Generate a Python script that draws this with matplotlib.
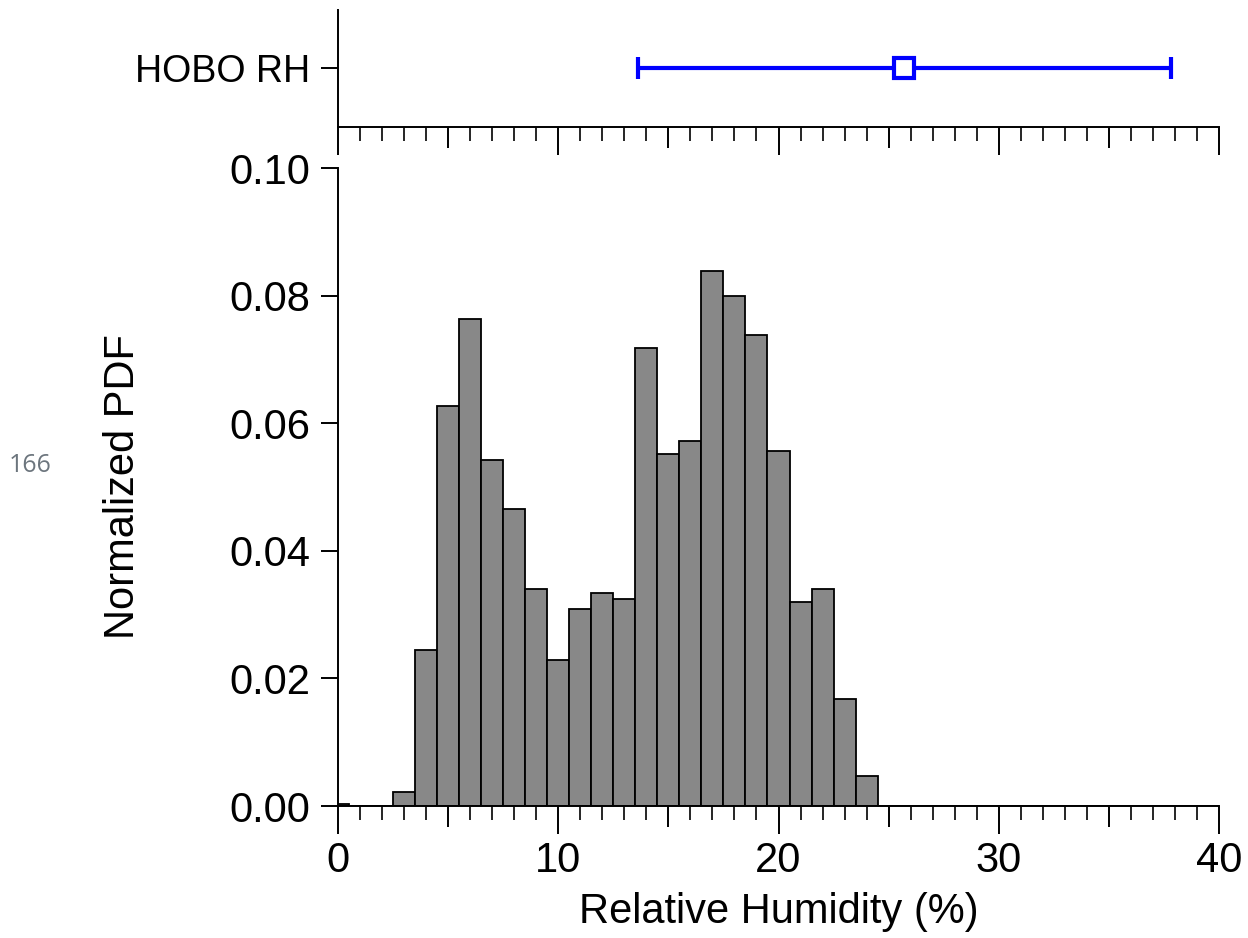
import numpy as np
import matplotlib
matplotlib.use('Agg')
import matplotlib.pyplot as plt
from matplotlib.ticker import MultipleLocator, FuncFormatter

plt.rcParams['font.family'] = ['Liberation Sans', 'DejaVu Sans']

# histogram of relative humidity, bins centred on whole percent
rh_centers = list(range(0, 41))
pdf = [0.0003, 0.0, 0.0, 0.0022, 0.0244, 0.0627, 0.0764, 0.0542, 0.0466, 0.0340,
       0.0229, 0.0309, 0.0334, 0.0324, 0.0718, 0.0552, 0.0572, 0.0839, 0.0799, 0.0739,
       0.0556, 0.0320, 0.0340, 0.0168, 0.0047, 0.0, 0.0, 0.0, 0.0, 0.0,
       0.0, 0.0, 0.0, 0.0, 0.0, 0.0, 0.0, 0.0, 0.0, 0.0, 0.0]

# HOBO sensor mean and spread
hobo_label = 'HOBO RH'
hobo_mean = 25.7
hobo_err = 12.1

W, H = 1248, 938
fig = plt.figure(figsize=(W / 100, H / 100), dpi=100)
ax = fig.add_axes([338 / W, (H - 806) / H, 881 / W, 638 / H])
axt = fig.add_axes([338 / W, (H - 127) / H, 881 / W, 117 / H])

ax.bar(rh_centers, pdf, width=1.0, color='#888888', edgecolor='black', linewidth=1.3)
ax.set_xlim(0, 40)
ax.set_ylim(0, 0.10)
ax.set_yticks([0, 0.02, 0.04, 0.06, 0.08, 0.10])
ax.yaxis.set_major_formatter(FuncFormatter(lambda v, p: f'{v:.2f}'))
ax.set_xlabel('Relative Humidity (%)', fontsize=30, labelpad=8)
ax.set_ylabel('Normalized PDF', fontsize=30, labelpad=62)

for a in (ax, axt):
    for s in ('top', 'right'):
        a.spines[s].set_visible(False)
    for s in ('left', 'bottom'):
        a.spines[s].set_linewidth(1.4)
    a.set_xlim(0, 40)
    a.xaxis.set_major_locator(MultipleLocator(5))
    a.xaxis.set_minor_locator(MultipleLocator(1))
    a.tick_params(axis='x', which='major', length=15, width=1.4, direction='out')
    a.tick_params(axis='x', which='minor', length=10, width=1.2, direction='out')
    a.tick_params(axis='y', which='major', length=12, width=1.4, direction='out')

ax.xaxis.set_major_formatter(FuncFormatter(lambda v, p: f'{v:.0f}' if v % 10 == 0 else ''))
ax.tick_params(axis='x', labelsize=30, pad=10)
ax.tick_params(axis='y', labelsize=30, pad=8)
axt.set_xticklabels([])

# long ticks at the tens
fig.canvas.draw()
for a in (ax, axt):
    for t in a.xaxis.get_major_ticks():
        if abs(t.get_loc() % 10) < 1e-6:
            t.tick1line.set_markersize(20)

axt.errorbar([hobo_mean], [0], xerr=[hobo_err], fmt='s', color='#0000ff',
             mfc='white', mec='#0000ff', ms=15, mew=3, elinewidth=3,
             capsize=8, capthick=2.5)
axt.set_ylim(-1, 1)
axt.set_yticks([0])
axt.set_yticklabels([hobo_label])
axt.tick_params(axis='y', labelsize=27, pad=8)

fig.text(30 / W, 1 - 465 / H, '166', fontsize=18, color='#6c757d',
         family=['Open Sans', 'DejaVu Sans'], ha='center', va='center')

fig.savefig('out.png', dpi=100)
